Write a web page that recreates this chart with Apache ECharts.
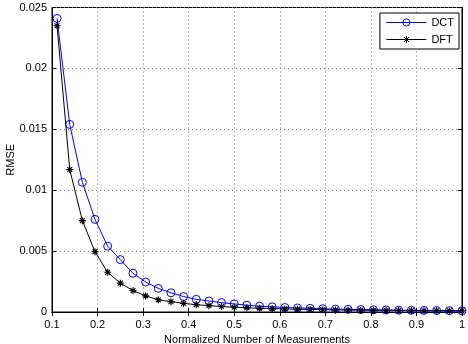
<!DOCTYPE html>
<html><head><meta charset="utf-8">
<script src="https://cdn.jsdelivr.net/npm/echarts@6/dist/echarts.min.js"></script>
<style>html,body{margin:0;padding:0;background:#fff}#c{width:468px;height:344px}</style>
</head><body><div id="c"></div>
<script>
const xValues = [0.1111,0.1389,0.1667,0.1944,0.2222,0.25,0.2778,0.3056,0.3333,0.3611,0.3889,0.4167,0.4444,0.4722,0.5,0.5278,0.5556,0.5833,0.6111,0.6389,0.6667,0.6944,0.7222,0.75,0.7778,0.8056,0.8333,0.8611,0.8889,0.9167,0.9444,0.9722,1.0];
const dct = [0.0241,0.0154,0.01065,0.0076,0.0054,0.0043,0.00318,0.00246,0.00194,0.00158,0.00127,0.00104,0.0009,0.00077,0.00066,0.00056,0.00048,0.00042,0.00037,0.00033,0.0003,0.00027,0.00024,0.00022,0.0002,0.00018,0.00017,0.00015,0.00014,0.00013,0.00012,0.00011,0.0001];
const dft = [0.0235,0.0117,0.0075,0.00495,0.00326,0.00237,0.00176,0.00132,0.001,0.00085,0.00071,0.0006,0.00052,0.00045,0.00039,0.00035,0.00031,0.00028,0.00025,0.00023,0.00021,0.00019,0.00017,0.00016,0.00015,0.00014,0.00013,0.00012,0.00011,0.0001,0.0001,0.00009,0.00009];
const seriesNames = ['DCT','DFT'];
const xName = 'Normalized Number of Measurements';
const yName = 'RMSE';

const font = 'Liberation Sans';
const star = 'path://M0,-10L0,10M-10,0L10,0M-7,-7L7,7M-7,7L7,-7';
const chart = echarts.init(document.getElementById('c'), null, {renderer:'canvas'});
const split = {show:true, lineStyle:{color:'#777', type:[1,3], width:1}};
const lab = {color:'#000', fontFamily:font, fontSize:11};
chart.setOption({
  animation:false,
  backgroundColor:'#fff',
  grid:{left:52, right:6, top:7.5, bottom:32, containLabel:false, outerBoundsMode:'none', show:true, borderColor:'#000', borderWidth:1},
  legend:{
    right:9, top:13, orient:'vertical', backgroundColor:'#fff', borderColor:'#000', borderWidth:1,
    padding:[4,5,4,6], itemWidth:40, itemHeight:9, itemGap:6,
    lineStyle:{width:1},
    itemStyle:{borderWidth:1},
    textStyle:{color:'#000', fontFamily:font, fontSize:11},
    data:seriesNames
  },
  xAxis:[{
    type:'value', min:0.1, max:1, interval:0.1, position:'bottom',
    axisLine:{show:true, lineStyle:{color:'#000'}},
    axisTick:{show:true, inside:true, length:4, lineStyle:{color:'#000'}},
    axisLabel:Object.assign({margin:7}, lab),
    splitLine:split,
    name:xName, nameLocation:'middle', nameGap:20, nameTextStyle:lab
  },{
    type:'value', min:0.1, max:1, interval:0.1, position:'top',
    axisLine:{show:true, lineStyle:{color:'#000'}},
    axisTick:{show:true, inside:true, length:4, lineStyle:{color:'#000'}},
    axisLabel:{show:false}, splitLine:{show:false}
  }],
  yAxis:[{
    type:'value', min:0, max:0.025, interval:0.005, position:'left',
    axisLine:{show:true, lineStyle:{color:'#000'}},
    axisTick:{show:true, inside:true, length:4, lineStyle:{color:'#000'}},
    axisLabel:Object.assign({margin:5}, lab),
    splitLine:split,
    name:yName, nameLocation:'middle', nameGap:36, nameMoveOverlap:false, nameTextStyle:lab
  },{
    type:'value', min:0, max:0.025, interval:0.005, position:'right',
    axisLine:{show:true, lineStyle:{color:'#000'}},
    axisTick:{show:true, inside:true, length:4, lineStyle:{color:'#000'}},
    axisLabel:{show:false}, splitLine:{show:false}
  }],
  series:[{
    name:seriesNames[0], type:'line', xAxisIndex:0, yAxisIndex:0,
    data:xValues.map((x,i)=>[x,dct[i]]),
    symbol:'circle', symbolSize:8, showAllSymbol:true,
    lineStyle:{color:'#0000ff', width:1},
    itemStyle:{color:'rgba(0,0,0,0)', borderColor:'#0000ff', borderWidth:1}
  },{
    name:seriesNames[1], type:'line', xAxisIndex:0, yAxisIndex:0,
    data:xValues.map((x,i)=>[x,dft[i]]),
    symbol:star, symbolSize:7, showAllSymbol:true,
    lineStyle:{color:'#000', width:1},
    itemStyle:{color:'#000', borderColor:'#000', borderWidth:1.1}
  }]
});
</script></body></html>
